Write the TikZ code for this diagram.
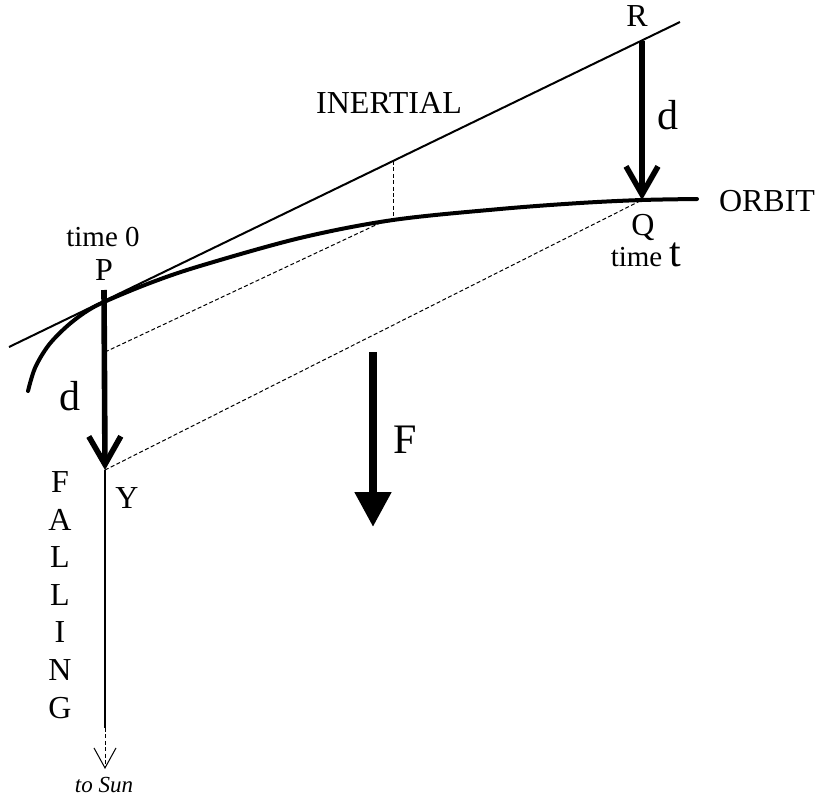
\documentclass[tikz,border=0pt]{standalone}
\usepackage{fontspec}
\setmainfont{Liberation Serif}
\usetikzlibrary{arrows.meta}

\tikzset{
  lbl/.style={font=\fontsize{16}{19}\selectfont, inner sep=0pt},
  smalllbl/.style={font=\fontsize{14.5}{17}\selectfont, inner sep=0pt},
  biglbl/.style={font=\fontsize{21}{25}\selectfont, inner sep=0pt},
  dotline/.style={line width=0.5pt, dash pattern=on 2pt off 1.2pt},
  fallarrow/.style={line width=2.8pt, -{Straight Barb[length=14pt,width=16pt]}},
}

\begin{document}
\begin{tikzpicture}[x=0.5pt,y=-0.5pt]
\useasboundingbox (0,0) rectangle (816,798);
\coordinate (T1) at (9,347);
\coordinate (T2) at (680,22);
\coordinate (P) at (104,302);
\coordinate (Y) at (105,470);
\coordinate (R) at (642,41);
\coordinate (Q) at (642,200);
\coordinate (M) at (105,352);
\coordinate (N) at (380,223);
\coordinate (I1) at (393,161);
\coordinate (I2) at (393,220);
\coordinate (S1) at (105,728);
\coordinate (S2) at (105,769);
\coordinate (F1) at (373,352);
\coordinate (F2) at (373,527);

\draw[line width=1pt] (T1) -- (T2);
\draw[line width=2pt, line cap=round] plot[smooth, tension=0.55] coordinates
  {(28,391) (35,368) (48,346) (65,328) (84,313) (104,302) (150,283) (200,266) (300,238) (393,220) (500,209) (580,203) (642,200) (697,199)};

\draw[dotline] (I1) -- (I2);
\draw[dotline] (M) -- (N);
\draw[dotline] (Y) -- (Q);

\draw[fallarrow] (R) -- (Q);
\draw[line width=1pt] (P) -- ++(0,8);
\draw[fallarrow] ([yshift=6]P) -- (Y);
\draw[line width=1.3pt] (Y) -- (S1);
\draw[dotline, -{Straight Barb[length=10pt,width=11pt]}] (S1) -- (S2);
\draw[line width=4pt, -{Triangle[length=17.5pt,width=17.5pt]}] (F1) -- (F2);

\node[lbl] (lR) at (637,16) {R};
\node[biglbl] (dR) at (668,115) {d};
\node[lbl] (lorbit) at (767,201) {ORBIT};
\node[lbl] (lQ) at (643,227) {Q};
\node[smalllbl, anchor=base] (ltimet) at (646,266) {time \fontsize{21}{25}\selectfont t};
\node[smalllbl] (ltime0) at (103,237) {time 0};
\node[lbl] (lP) at (104,270) {P};
\node[biglbl] (dL) at (70,396) {d};
\node[lbl] (lY) at (127,498) {Y};
\node[lbl] (linertial) at (389,103) {INERTIAL};
\node[biglbl] (lF) at (405,440) {F};
\foreach \ch [count=\i from 0] in {F,A,L,L,I,N,G}
  \node[lbl] (fall\i) at (60,482+37.6*\i) {\ch};
\node[font=\fontsize{11.5}{14}\selectfont\itshape, inner sep=0pt] (lsun) at (104,785) {to Sun};
\end{tikzpicture}
\end{document}
